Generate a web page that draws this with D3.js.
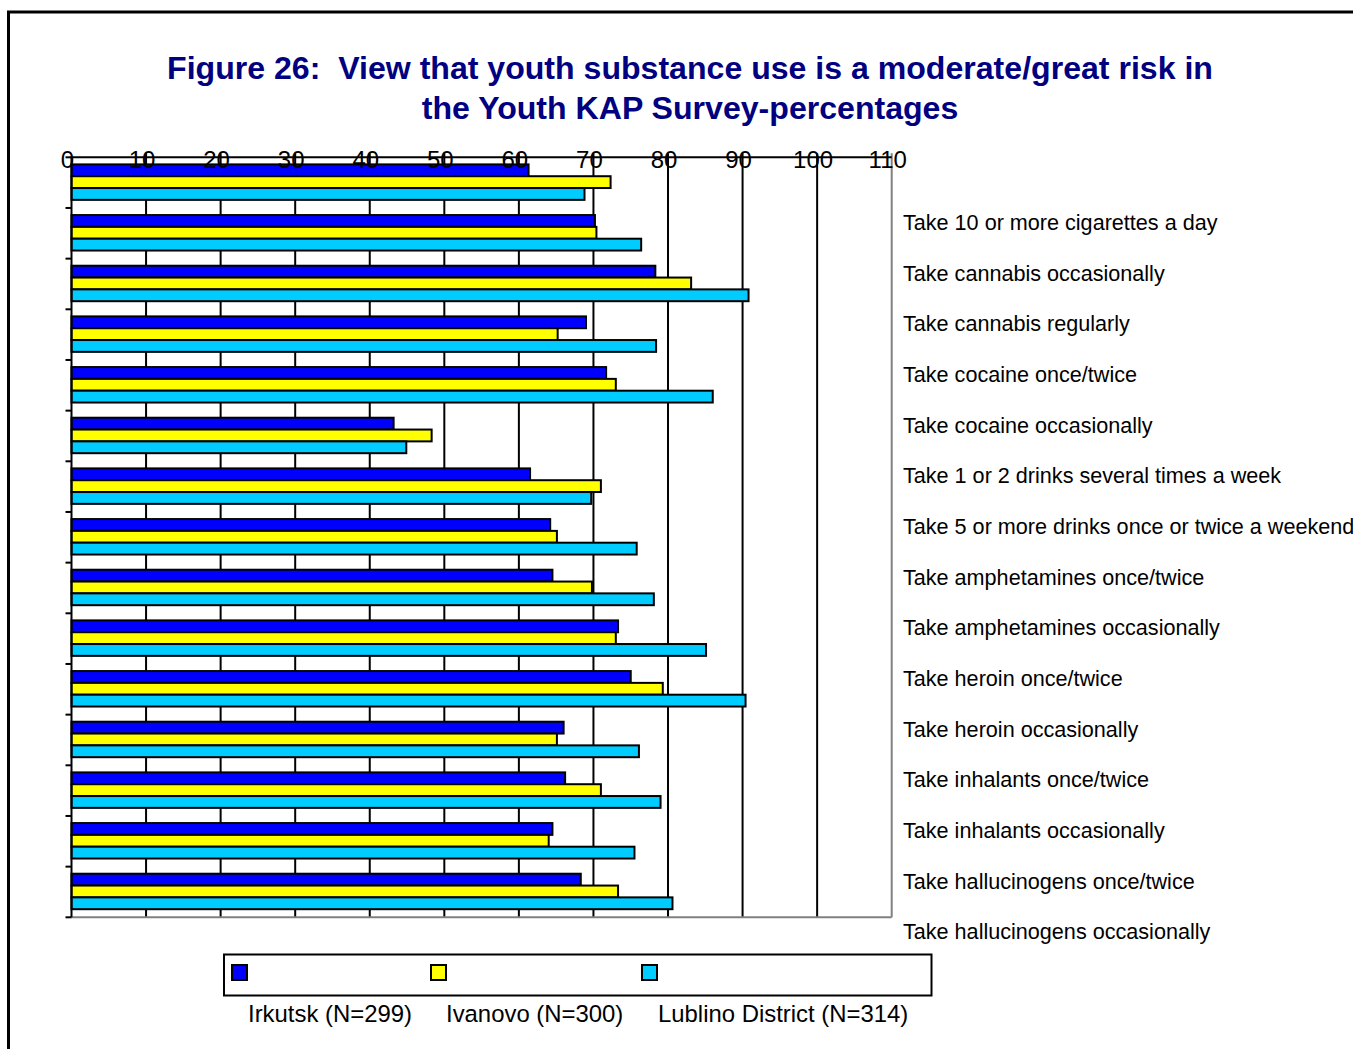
<!DOCTYPE html>
<html>
<head>
<meta charset="utf-8">
<script src="https://cdn.jsdelivr.net/npm/d3@7"></script>
<style>
  html, body { margin: 0; padding: 0; background: #fff; }
  svg { display: block; }
  text { font-family: Arial, "Liberation Sans", sans-serif; }
</style>
</head>
<body>
<svg id="chart" width="1353" height="1049"></svg>
<script>
const categories = [
  "Take 10 or more cigarettes a day",
  "Take cannabis occasionally",
  "Take cannabis regularly",
  "Take cocaine once/twice",
  "Take cocaine occasionally",
  "Take 1 or 2 drinks several times a week",
  "Take 5 or more drinks once or twice a weekend",
  "Take amphetamines once/twice",
  "Take amphetamines occasionally",
  "Take heroin once/twice",
  "Take heroin occasionally",
  "Take inhalants once/twice",
  "Take inhalants occasionally",
  "Take hallucinogens once/twice",
  "Take hallucinogens occasionally"
];
const seriesNames = ["Irkutsk (N=299)", "Ivanovo (N=300)", "Lublino District (N=314)"];
const seriesColors = ["#0000FF", "#FFFF00", "#00CCFF"];
const irkutsk  = [61.3, 70.2, 78.3, 69.0, 71.7, 43.2, 61.5, 64.2, 64.5, 73.3, 75.0, 66.0, 66.2, 64.5, 68.3];
const ivanovo  = [72.3, 70.4, 83.1, 65.2, 73.0, 48.3, 71.0, 65.1, 69.8, 73.0, 79.3, 65.1, 71.0, 64.0, 73.3];
const lublino  = [68.8, 76.4, 90.8, 78.4, 86.0, 44.9, 69.7, 75.8, 78.1, 85.1, 90.4, 76.1, 79.0, 75.5, 80.6];
const tickValues = [0, 10, 20, 30, 40, 50, 60, 70, 80, 90, 100, 110];
const titleLines = ["Figure 26:  View that youth substance use is a moderate/great risk in",
                    "the Youth KAP Survey-percentages"];

(function () {
const seriesValues = [irkutsk, ivanovo, lublino];

const svg = d3.select("#chart");

// Outer frame (only top and left visible)
svg.append("path")
  .attr("d", "M8.5,1060 L8.5,12 L1360,12")
  .attr("fill", "none").attr("stroke", "#000").attr("stroke-width", 3);

// Title
svg.append("g").selectAll("text").data(titleLines).join("text")
  .attr("x", 690).attr("y", (d, i) => 79 + i * 40)
  .attr("text-anchor", "middle")
  .attr("font-size", 32.1).attr("font-weight", "bold")
  .attr("fill", "#000080")
  .attr("xml:space", "preserve")
  .style("white-space", "pre")
  .text(d => d);

const pL = 71.5, pR = 891.7, pT = 157.3, pB = 917.3;
const x = d3.scaleLinear().domain([0, 110]).range([pL, pR]);
const y = d3.scaleBand().domain(categories).range([pT, pB]).padding(0);
const bw = y.bandwidth();
const ySub = d3.scaleBand().domain(d3.range(3)).range([bw * 0.14, bw * 0.84]).padding(0);

// Gridlines
svg.append("g").selectAll("line").data(tickValues.filter(v => v > 0 && v < 110)).join("line")
  .attr("x1", d => x(d)).attr("x2", d => x(d))
  .attr("y1", pT - 4).attr("y2", pB)
  .attr("stroke", "#000").attr("stroke-width", 2);

// Plot border right & bottom (gray)
svg.append("line").attr("x1", pR).attr("x2", pR).attr("y1", pT - 4).attr("y2", pB)
  .attr("stroke", "#808080").attr("stroke-width", 2);
svg.append("line").attr("x1", pL).attr("x2", pR).attr("y1", pB).attr("y2", pB)
  .attr("stroke", "#808080").attr("stroke-width", 2);

// Bars
const groups = svg.append("g").selectAll("g").data(categories).join("g")
  .attr("transform", d => `translate(0,${y(d)})`);
groups.selectAll("rect").data((d, i) => seriesValues.map((s, j) => ({ v: s[i], j })))
  .join("rect")
  .attr("x", pL)
  .attr("y", d => ySub(d.j))
  .attr("width", d => x(d.v) - pL)
  .attr("height", ySub.bandwidth())
  .attr("fill", d => seriesColors[d.j])
  .attr("stroke", "#000").attr("stroke-width", 2);

// Left axis line & ticks
svg.append("line").attr("x1", pL).attr("x2", pL).attr("y1", pT).attr("y2", pB)
  .attr("stroke", "#000").attr("stroke-width", 2);
const boundaries = categories.map(c => y(c)).concat([pB]);
svg.append("g").selectAll("line").data(boundaries).join("line")
  .attr("x1", pL - 6).attr("x2", pL).attr("y1", d => d).attr("y2", d => d)
  .attr("stroke", "#000").attr("stroke-width", 2);

// Top axis line
svg.append("line").attr("x1", pL - 1).attr("x2", pR).attr("y1", pT).attr("y2", pT)
  .attr("stroke", "#000").attr("stroke-width", 2);

// Top tick labels
svg.append("g").selectAll("text").data(tickValues).join("text")
  .attr("x", d => x(d) - 4).attr("y", 168)
  .attr("text-anchor", "middle")
  .attr("font-size", 24).attr("fill", "#000")
  .text(d => d);

// Category labels (offset as in original)
svg.append("g").selectAll("text").data(categories).join("text")
  .attr("x", 903).attr("y", d => y(d) + bw + 22)
  .attr("font-size", 21.6).attr("fill", "#000")
  .text(d => d);

// Legend
svg.append("rect").attr("x", 224).attr("y", 954.5).attr("width", 707.5).attr("height", 41)
  .attr("fill", "#fff").attr("stroke", "#000").attr("stroke-width", 2);
const legendX = [232, 431, 642];
const legendTextX = [248, 446, 658];
svg.append("g").selectAll("rect").data(seriesNames).join("rect")
  .attr("x", (d, i) => legendX[i]).attr("y", 965).attr("width", 15).attr("height", 15)
  .attr("fill", (d, i) => seriesColors[i]).attr("stroke", "#000").attr("stroke-width", 2);
svg.append("g").selectAll("text").data(seriesNames).join("text")
  .attr("x", (d, i) => legendTextX[i]).attr("y", 1022)
  .attr("font-size", 23.9).attr("fill", "#000")
  .text(d => d);
})();
</script>
</body>
</html>
